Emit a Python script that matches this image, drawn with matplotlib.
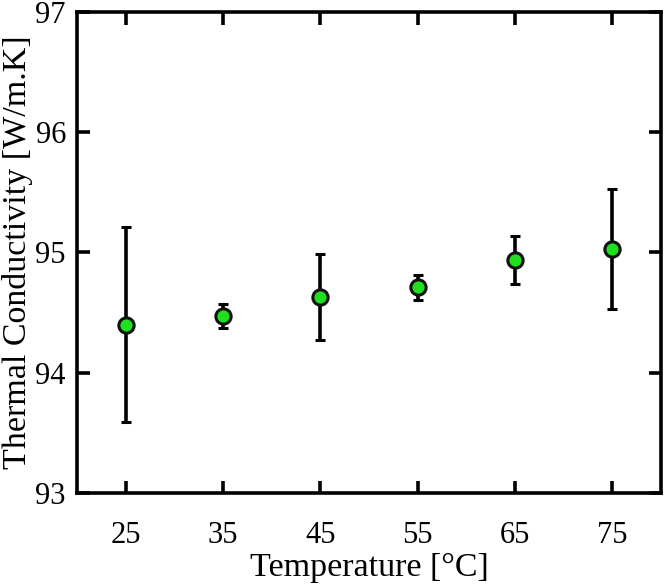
import matplotlib
matplotlib.use("Agg")
import matplotlib.pyplot as plt

temperature = [25, 35, 45, 55, 65, 75]
conductivity = [94.40, 94.47, 94.63, 94.71, 94.94, 95.03]
error = [0.81, 0.10, 0.36, 0.105, 0.20, 0.50]
xticks = [25, 35, 45, 55, 65, 75]
yticks = [93, 94, 95, 96, 97]

plt.rcParams['font.family'] = ['Liberation Serif', 'DejaVu Serif']

fig = plt.figure(figsize=(6.66, 5.85), dpi=100)
ax = fig.add_axes([0.1156, 0.1573, 0.8769, 0.8222])

ax.errorbar(temperature, conductivity, yerr=error, fmt='o', color='black',
            ecolor='black', elinewidth=2.6, capsize=3.5, capthick=2.6,
            markersize=11, markerfacecolor='#1ee01e', markeredgecolor='#111111',
            markeredgewidth=2.2, zorder=3)

ax.set_xlim(20, 80)
ax.set_ylim(93, 97)
ax.set_xticks(xticks)
ax.set_yticks(yticks)
ax.tick_params(direction='in', length=9, width=2.6, top=True, right=True,
               labelsize=22)
ax.tick_params(axis='x', pad=20)
ax.tick_params(axis='y', pad=8)
for s in ax.spines.values():
    s.set_linewidth(2.6)

ax.set_xlabel('Temperature [°C]', fontsize=24.5, labelpad=2)
ax.set_ylabel('Thermal Conductivity [W/m.K]', fontsize=24.5, labelpad=2)

fig.savefig('out.png', dpi=100)
